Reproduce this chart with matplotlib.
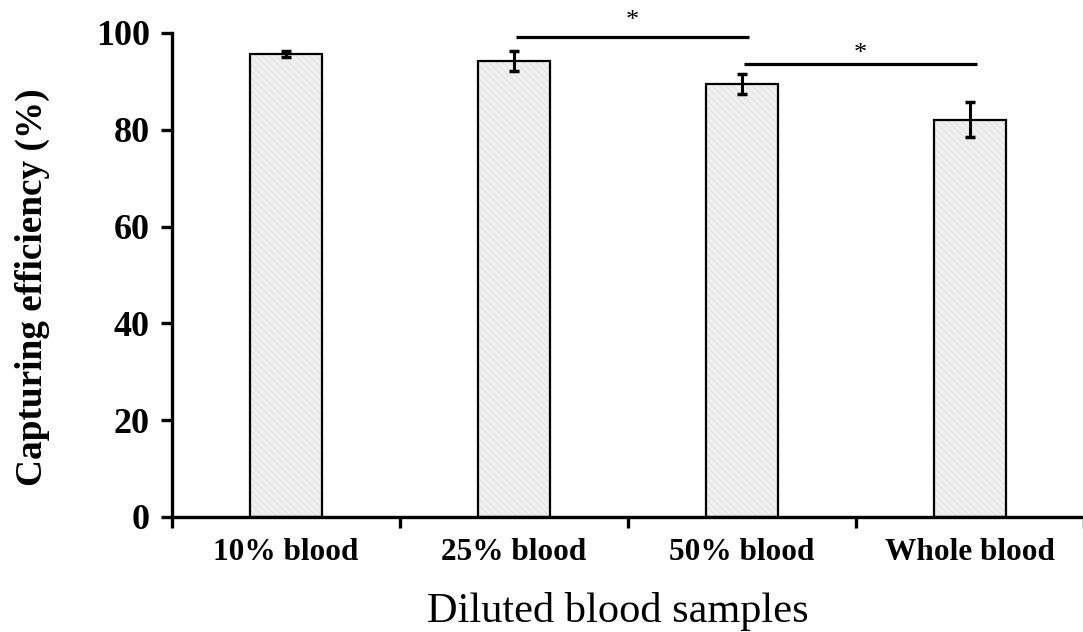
import matplotlib
matplotlib.use('Agg')
import matplotlib.pyplot as plt

# data
categories = ['10% blood', '25% blood', '50% blood', 'Whole blood']
efficiency = [95.6, 94.2, 89.4, 82.1]
errors = [0.6, 2.0, 2.0, 3.7]
# significance brackets: (left bar, right bar, line height, star height, label)
brackets = [(1, 2, 99.2, 102.4, '*'), (2, 3, 93.6, 95.6, '*')]

plt.rcParams['font.family'] = ['Liberation Serif', 'DejaVu Serif']
plt.rcParams['hatch.linewidth'] = 0.5

fig = plt.figure(figsize=(10.83, 6.32), dpi=100)
ax = fig.add_axes([0.1588, 0.182, 0.842, 0.766])

x = list(range(len(categories)))
width = 0.316

# hatched fill first, then black outline on top
ax.bar(x, efficiency, width=width, color='#f0f0f0', edgecolor='#d9d9d9',
       hatch='\\\\\\\\\\', linewidth=0, zorder=2)
ax.bar(x, efficiency, width=width, fill=False, edgecolor='black',
       linewidth=1.6, zorder=3)
ax.errorbar(x, efficiency, yerr=errors, fmt='none', ecolor='black',
            elinewidth=2.2, capsize=3.5, capthick=2.5, zorder=4)

for left, right, h, star_h, label in brackets:
    ax.plot([left + 0.01, right + 0.03], [h, h], color='black', lw=2.3,
            solid_capstyle='butt', clip_on=False, zorder=5)
    ax.text((left + right) / 2 + 0.02, star_h, label, ha='center',
            va='center', fontsize=19, clip_on=False)

ax.set_xlim(-0.5, 3.5)
ax.set_ylim(0, 100)
ax.spines['top'].set_visible(False)
ax.spines['right'].set_visible(False)
ax.spines['left'].set_linewidth(2.4)
ax.spines['bottom'].set_linewidth(2.4)

ax.set_yticks([0, 20, 40, 60, 80, 100])
ax.tick_params(axis='y', direction='out', length=8, width=2.4, pad=8,
               labelsize=26)
for t in ax.get_yticklabels():
    t.set_fontweight('bold')

# category boundaries carry the ticks, labels sit between them
ax.set_xticks([-0.5, 0.5, 1.5, 2.5, 3.5])
ax.set_xticklabels([])
ax.set_xticks(x, minor=True)
ax.set_xticklabels(categories, minor=True, fontsize=22.5, fontweight='bold')
ax.tick_params(axis='x', which='major', direction='out', length=8, width=2.4)
ax.tick_params(axis='x', which='minor', length=0, pad=15)

ax.set_ylabel('Capturing efficiency (%)', fontsize=26.8, fontweight='bold')
ax.yaxis.set_label_coords(-0.134, 0.475)
ax.set_xlabel('Diluted blood samples', fontsize=30.5)
ax.xaxis.set_label_coords(0.4885, -0.155)

fig.savefig('out.png', dpi=100)
